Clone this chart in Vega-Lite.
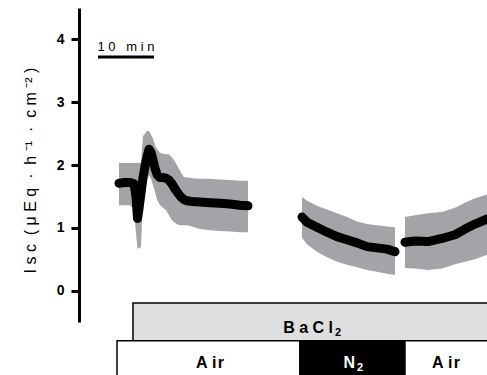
{
  "$schema": "https://vega.github.io/schema/vega-lite/v6.json",
  "width": 408,
  "height": 314,
  "autosize": {"type": "none"},
  "padding": {"left": 79, "top": 8, "right": 0, "bottom": 53},
  "config": {"view": {"stroke": null}, "font": "Liberation Sans"},
  "datasets": {
    "trace": [
      {"seg": 1, "t": 7.14, "y": 1.71, "lo": 1.36, "hi": 2.03},
      {"seg": 1, "t": 8.21, "y": 1.72, "lo": 1.36, "hi": 2.03},
      {"seg": 1, "t": 9.11, "y": 1.72, "lo": 1.36, "hi": 2.03},
      {"seg": 1, "t": 9.82, "y": 1.70, "lo": 1.30, "hi": 2.03},
      {"seg": 1, "t": 10.18, "y": 1.50, "lo": 0.90, "hi": 2.03},
      {"seg": 1, "t": 10.45, "y": 1.15, "lo": 0.67, "hi": 2.03},
      {"seg": 1, "t": 10.71, "y": 1.30, "lo": 0.67, "hi": 2.03},
      {"seg": 1, "t": 11.07, "y": 1.55, "lo": 0.70, "hi": 2.03},
      {"seg": 1, "t": 11.43, "y": 1.80, "lo": 1.50, "hi": 2.46},
      {"seg": 1, "t": 11.79, "y": 1.98, "lo": 1.60, "hi": 2.50},
      {"seg": 1, "t": 12.14, "y": 2.13, "lo": 1.75, "hi": 2.54},
      {"seg": 1, "t": 12.5, "y": 2.25, "lo": 1.84, "hi": 2.54},
      {"seg": 1, "t": 12.86, "y": 2.20, "lo": 1.78, "hi": 2.48},
      {"seg": 1, "t": 13.21, "y": 2.08, "lo": 1.68, "hi": 2.42},
      {"seg": 1, "t": 13.57, "y": 1.95, "lo": 1.57, "hi": 2.32},
      {"seg": 1, "t": 13.93, "y": 1.85, "lo": 1.45, "hi": 2.25},
      {"seg": 1, "t": 14.46, "y": 1.80, "lo": 1.36, "hi": 2.20},
      {"seg": 1, "t": 15.0, "y": 1.80, "lo": 1.32, "hi": 2.18},
      {"seg": 1, "t": 15.54, "y": 1.79, "lo": 1.28, "hi": 2.17},
      {"seg": 1, "t": 16.07, "y": 1.76, "lo": 1.20, "hi": 2.17},
      {"seg": 1, "t": 16.61, "y": 1.70, "lo": 1.12, "hi": 2.12},
      {"seg": 1, "t": 17.14, "y": 1.62, "lo": 1.08, "hi": 2.05},
      {"seg": 1, "t": 17.68, "y": 1.55, "lo": 1.05, "hi": 1.97},
      {"seg": 1, "t": 18.21, "y": 1.49, "lo": 1.04, "hi": 1.88},
      {"seg": 1, "t": 18.75, "y": 1.45, "lo": 1.04, "hi": 1.81},
      {"seg": 1, "t": 19.29, "y": 1.43, "lo": 1.04, "hi": 1.80},
      {"seg": 1, "t": 20.18, "y": 1.42, "lo": 1.02, "hi": 1.79},
      {"seg": 1, "t": 21.61, "y": 1.41, "lo": 0.98, "hi": 1.78},
      {"seg": 1, "t": 23.39, "y": 1.40, "lo": 0.96, "hi": 1.78},
      {"seg": 1, "t": 25.18, "y": 1.39, "lo": 0.95, "hi": 1.77},
      {"seg": 1, "t": 26.96, "y": 1.38, "lo": 0.94, "hi": 1.76},
      {"seg": 1, "t": 28.75, "y": 1.36, "lo": 0.93, "hi": 1.75},
      {"seg": 1, "t": 30.18, "y": 1.35, "lo": 0.93, "hi": 1.75},
      {"seg": 2, "t": 39.82, "y": 1.17, "lo": 0.84, "hi": 1.49},
      {"seg": 2, "t": 40.71, "y": 1.09, "lo": 0.74, "hi": 1.43},
      {"seg": 2, "t": 42.5, "y": 1.01, "lo": 0.62, "hi": 1.35},
      {"seg": 2, "t": 44.29, "y": 0.93, "lo": 0.53, "hi": 1.29},
      {"seg": 2, "t": 46.07, "y": 0.86, "lo": 0.46, "hi": 1.23},
      {"seg": 2, "t": 47.86, "y": 0.81, "lo": 0.41, "hi": 1.17},
      {"seg": 2, "t": 49.64, "y": 0.76, "lo": 0.37, "hi": 1.10},
      {"seg": 2, "t": 51.43, "y": 0.70, "lo": 0.33, "hi": 1.06},
      {"seg": 2, "t": 53.21, "y": 0.68, "lo": 0.30, "hi": 1.04},
      {"seg": 2, "t": 55.0, "y": 0.66, "lo": 0.27, "hi": 1.02},
      {"seg": 2, "t": 56.43, "y": 0.62, "lo": 0.25, "hi": 1.01},
      {"seg": 3, "t": 58.21, "y": 0.77, "lo": 0.36, "hi": 1.17},
      {"seg": 3, "t": 60.0, "y": 0.79, "lo": 0.35, "hi": 1.20},
      {"seg": 3, "t": 62.32, "y": 0.78, "lo": 0.33, "hi": 1.23},
      {"seg": 3, "t": 64.82, "y": 0.83, "lo": 0.35, "hi": 1.25},
      {"seg": 3, "t": 67.14, "y": 0.89, "lo": 0.42, "hi": 1.32},
      {"seg": 3, "t": 68.93, "y": 0.98, "lo": 0.46, "hi": 1.40},
      {"seg": 3, "t": 70.71, "y": 1.06, "lo": 0.50, "hi": 1.47},
      {"seg": 3, "t": 72.86, "y": 1.14, "lo": 0.57, "hi": 1.53}
    ],
    "boxes": [
      {"gas": "BaCl2", "x": 9.64, "x2": 80, "y": -0.197, "y2": -0.80},
      {"gas": "Air", "x": 6.79, "x2": 39.46, "y": -0.80, "y2": -1.6},
      {"gas": "N2", "x": 39.46, "x2": 58.21, "y": -0.80, "y2": -1.6},
      {"gas": "Air", "x": 58.21, "x2": 80, "y": -0.80, "y2": -1.6}
    ],
    "labels": [
      {"main": "B\u00a0a\u00a0C\u00a0l", "sub": "2", "gas": "BaCl2", "x": 45.36, "y": -0.59},
      {"main": "A\u00a0i\u200ar", "sub": "", "gas": "Air", "x": 23.39, "y": -1.145},
      {"main": "N\u00a0", "sub": "2", "gas": "N2", "x": 49.29, "y": -1.145},
      {"main": "A\u00a0i\u200ar", "sub": "", "gas": "Air", "x": 65.54, "y": -1.145}
    ],
    "scalebar": [{"t1": 3.39, "t2": 13.39, "y": 3.72, "label": "1\u00a00\u00a0\u00a0\u00a0m\u00a0i\u00a0n", "mid": 8.39, "ty": 3.82}]
  },
  "layer": [
    {
      "data": {"name": "trace"},
      "mark": {"type": "area", "color": "#a3a3a8", "opacity": 1},
      "encoding": {
        "x": {"field": "t", "type": "quantitative", "scale": {"domain": [0, 72.86], "nice": false, "zero": false}, "axis": null},
        "y": {
          "field": "lo", "type": "quantitative",
          "scale": {"domain": [-0.5, 4.5], "nice": false, "zero": false},
          "axis": {
            "values": [0, 1, 2, 3, 4],
            "format": "d",
            "title": "I\u00a0s\u00a0c\u00a0\u00a0(\u00a0μ\u00a0E\u00a0q\u00a0\u00a0·\u00a0\u00a0h\u00a0⁻¹\u00a0\u00a0·\u00a0\u00a0c\u00a0m\u00a0⁻²\u00a0)",
            "titleFont": "Liberation Sans",
            "titleFontSize": 16,
            "titleFontWeight": "normal",
            "titleColor": "#000000",
            "titleAngle": -90,
            "titleAlign": "center",
            "titleBaseline": "alphabetic",
            "titleX": -44,
            "titleY": 162,
            "domainColor": "#000000",
            "domainWidth": 3,
            "tickColor": "#000000",
            "tickWidth": 3,
            "tickSize": 8,
            "labelFont": "Liberation Sans",
            "labelFontSize": 14,
            "labelFontWeight": "bold",
            "labelColor": "#000000",
            "labelPadding": 7,
            "grid": false
          }
        },
        "y2": {"field": "hi"},
        "detail": {"field": "seg", "type": "nominal"}
      }
    },
    {
      "data": {"name": "trace"},
      "mark": {"type": "line", "color": "#000000", "strokeWidth": 9, "strokeCap": "round", "strokeJoin": "round"},
      "encoding": {
        "x": {"field": "t", "type": "quantitative", "axis": null},
        "y": {"field": "y", "type": "quantitative"},
        "detail": {"field": "seg", "type": "nominal"}
      }
    },
    {
      "data": {"name": "trace"},
      "mark": {"type": "point", "filled": true, "color": "#000000", "size": 64, "opacity": 1},
      "encoding": {
        "x": {"field": "t", "type": "quantitative", "axis": null},
        "y": {"field": "y", "type": "quantitative"}
      }
    },
    {
      "data": {"name": "scalebar"},
      "mark": {"type": "rule", "color": "#000000", "strokeWidth": 3},
      "encoding": {
        "x": {"field": "t1", "type": "quantitative", "axis": null},
        "x2": {"field": "t2"},
        "y": {"field": "y", "type": "quantitative"}
      }
    },
    {
      "data": {"name": "scalebar"},
      "mark": {"type": "text", "font": "Liberation Sans", "fontSize": 13, "color": "#000000", "align": "center", "baseline": "alphabetic"},
      "encoding": {
        "x": {"field": "mid", "type": "quantitative", "axis": null},
        "y": {"field": "ty", "type": "quantitative"},
        "text": {"field": "label"}
      }
    },
    {
      "data": {"name": "boxes"},
      "mark": {"type": "rect", "stroke": "#000000", "strokeWidth": 1.5},
      "encoding": {
        "x": {"field": "x", "type": "quantitative", "axis": null},
        "x2": {"field": "x2"},
        "y": {"field": "y", "type": "quantitative"},
        "y2": {"field": "y2"},
        "fill": {"field": "gas", "type": "nominal", "scale": {"domain": ["BaCl2", "Air", "N2"], "range": ["#dedede", "#ffffff", "#000000"]}, "legend": null}
      }
    },
    {
      "data": {"name": "labels"},
      "transform": [{"filter": "datum.gas === 'Air'"}],
      "mark": {"type": "text", "font": "Liberation Sans", "fontSize": 16, "fontWeight": "bold", "align": "center", "baseline": "middle", "color": "#000000"},
      "encoding": {
        "x": {"field": "x", "type": "quantitative", "axis": null},
        "y": {"field": "y", "type": "quantitative"},
        "text": {"field": "main"}
      }
    },
    {
      "data": {"name": "labels"},
      "transform": [{"filter": "datum.gas !== 'Air'"}],
      "mark": {"type": "text", "font": "Liberation Sans", "fontSize": 16, "fontWeight": "bold", "align": "right", "baseline": "middle"},
      "encoding": {
        "x": {"field": "x", "type": "quantitative", "axis": null},
        "y": {"field": "y", "type": "quantitative"},
        "text": {"field": "main"},
        "color": {"condition": {"test": "datum.gas === 'N2'", "value": "#ffffff"}, "value": "#000000"}
      }
    },
    {
      "data": {"name": "labels"},
      "transform": [{"filter": "datum.gas !== 'Air'"}],
      "mark": {"type": "text", "font": "Liberation Sans", "fontSize": 11, "fontWeight": "bold", "align": "left", "baseline": "middle", "dx": 2, "dy": 5},
      "encoding": {
        "x": {"field": "x", "type": "quantitative", "axis": null},
        "y": {"field": "y", "type": "quantitative"},
        "text": {"field": "sub"},
        "color": {"condition": {"test": "datum.gas === 'N2'", "value": "#ffffff"}, "value": "#000000"}
      }
    }
  ]
}
